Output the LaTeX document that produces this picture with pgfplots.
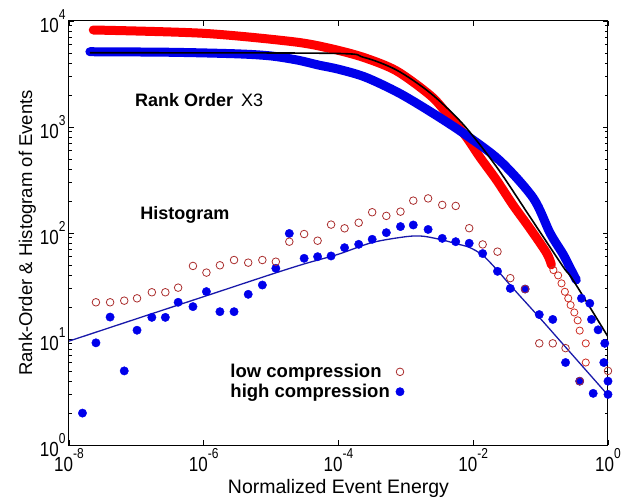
\documentclass[border=0pt]{standalone}
\usepackage{pgfplots}
\pgfplotsset{compat=1.18}
\usepackage{fontspec}
\setmainfont{Liberation Sans}
\definecolor{rankred}{RGB}{255,0,0}
\definecolor{dotblue}{RGB}{0,0,235}
\definecolor{fitblue}{RGB}{25,25,170}
\definecolor{circred}{RGB}{170,45,45}
\definecolor{tailred}{RGB}{205,45,35}
\newcommand{\tl}[1]{\scalebox{1}[1.2]{10\raisebox{0.62em}{\fontsize{12bp}{12bp}\selectfont #1}}}
\begin{document}
\begin{tikzpicture}
\path[use as bounding box] (0,0) rectangle (621bp,501bp);
\begin{axis}[
  at={(69bp,56bp)}, anchor=south west,
  width=539bp, height=424bp, scale only axis,
  xmode=log, ymode=log,
  xmin=1e-8, xmax=1, ymin=1, ymax=1e4,
  xtick={1e-8,1e-6,1e-4,1e-2,1},
  xticklabels={\tl{-8},\tl{-6},\tl{-4},\tl{-2},\tl{0}},
  ytick={1,10,100,1000,10000},
  yticklabels={\tl{0},\tl{1},\tl{2},\tl{3},\tl{4}},
  xminorticks=false,
  tick label style={font=\fontsize{17bp}{19bp}\selectfont},
  axis line style={line width=1bp},
  tick style={black, line width=0.8bp},
  major tick length=5bp, minor tick length=3bp,
  xlabel={Normalized Event Energy},
  ylabel={Rank-Order \& Histogram of Events},
  xlabel style={font=\fontsize{19.5bp}{22bp}\selectfont, yshift=-1bp},
  ylabel style={font=\fontsize{18.5bp}{21bp}\selectfont, yshift=-3bp},
  reverse legend,
  legend plot pos=right,
  legend cell align=left,
  legend style={at={(0.29,0.2)}, anchor=north west, draw=none, fill=none,
    font=\fontsize{18.5bp}{21bp}\selectfont\bfseries, row sep=1bp, column sep=4bp},
]
% rank order, low compression (x3)
\addplot[rankred, line width=9bp, line cap=round, line join=round, smooth, tension=0.5, forget plot] coordinates {
(2.291e-8,8222) (9.772e-7,7656) (2.089e-5,6383) (7.413e-5,5521) (2.344e-4,4539)
(7.244e-4,3388) (2.291e-3,1995) (3.981e-3,1365) (7.586e-3,831.8) (1.259e-2,517.6)
(2.213e-2,316.2) (3.890e-2,183.7) (6.918e-2,110.7) (0.1230,64.6) (0.1445,50.1)
};
% rank order, high compression (x3)
\addplot[dotblue, line width=9bp, line cap=round, line join=round, smooth, tension=0.5, forget plot] coordinates {
(2.042e-8,5129) (3.162e-7,5070) (3.162e-6,4898) (1e-5,4677) (2.512e-5,4266)
(5.012e-5,3846) (1e-4,3508) (2.512e-4,2951) (7.943e-4,2089) (2.512e-3,1349)
(7.586e-3,851.1) (2.512e-2,478.6) (7.762e-2,213.8) (0.1380,100) (0.2153,63.1)
(0.2692,47.9) (0.3388,36.1)
};
% fit to rank order
\addplot[black, line width=1.6bp, smooth, tension=0.5, forget plot] coordinates {
(2.042e-8,5012) (7.413e-5,4955) (2.344e-4,4550) (7.244e-4,3450) (2.291e-3,2100)
(7.079e-3,1060) (2.213e-2,421.7) (6.918e-2,142.6) (0.2153,48.1) (0.3020,36.1) (1,10.5)
};
% rank order tails
\addplot[only marks, mark=o, mark size=3.6bp, tailred, mark options={line width=0.8bp}, forget plot] coordinates {
(0.1549,44.7) (0.1820,39.8) (0.2042,33.5) (0.2291,27.9) (0.2570,24.2) (0.2786,20.9)
(0.3162,17.8) (0.3548,15.0) (0.3802,12.0) (0.4677,9.1) (0.4677,6.0)
};
\addplot[only marks, mark=*, mark size=4.2bp, dotblue, forget plot] coordinates {
(0.4036,24.2) (0.5370,21.7) (0.5689,15.3) (0.7129,12.2) (0.8954,9.1) (0.8670,6.0) (1,3.0)
};
% fit to histogram
\addplot[fitblue, line width=1.3bp, smooth, forget plot] coordinates {
(1e-8,9.55) (1e-7,15.5) (1e-6,25.1) (1e-5,40.7) (3.162e-5,51.3) (1e-4,63.1)
(3.162e-4,81.3) (1e-3,92.3) (1.778e-3,93.3) (3.467e-3,86.1) (5.495e-3,79.4)
(8.710e-3,73.3) (1.380e-2,61.7) (2.265e-2,44.7) (3.715e-2,31.1) (0.1,15.5)
(0.3162,6.76) (1,2.95)
};
% histogram, high compression
\addplot[only marks, mark=*, mark size=4.2bp, dotblue] coordinates {
(1.585e-8,2.0) (2.512e-8,9.2) (4.074e-8,16.1) (6.607e-8,5.0) (1.023e-7,12.1)
(1.698e-7,16.0) (2.692e-7,16.0) (4.169e-7,22.2) (6.918e-7,20.2) (1.096e-6,28.0)
(1.738e-6,18.1) (2.818e-6,18.1) (4.571e-6,26.4) (7.413e-6,32.3) (1.175e-5,46.4)
(1.862e-5,99.0) (3.090e-5,57.7) (4.898e-5,59.8) (7.762e-5,60.7) (1.230e-4,72.7)
(1.995e-4,78.2) (3.162e-4,87.2) (5.129e-4,100.7) (8.318e-4,115) (1.288e-3,119)
(2.138e-3,108) (3.467e-3,89) (5.495e-3,82.8) (8.710e-3,80) (1.380e-2,64)
(2.291e-2,43.5) (3.548e-2,30) (5.888e-2,29.6) (9.550e-2,17.0) (0.1514,15.3)
(0.2344,6.0) (0.3802,4.0) (0.6026,3.07) (1,4.0)
};
\addlegendentry{high compression}
% histogram, low compression
\addplot[only marks, mark=o, mark size=3.8bp, circred, mark options={line width=0.8bp}] coordinates {
(2.512e-8,22.2) (4.074e-8,22.2) (6.607e-8,23.0) (1.023e-7,24.2) (1.698e-7,27.6)
(2.692e-7,27.6) (4.169e-7,30.5) (6.918e-7,48.9) (1.096e-6,42.3) (1.738e-6,49.6)
(2.818e-6,55.6) (4.571e-6,52.5) (7.413e-6,55.6) (1.175e-5,53.6) (1.862e-5,82.8)
(3.090e-5,97.8) (4.898e-5,84.6) (7.762e-5,120) (1.230e-4,110.7) (1.995e-4,125)
(3.162e-4,157) (5.129e-4,145) (8.318e-4,159) (1.288e-3,202) (2.138e-3,212)
(3.467e-3,184) (5.495e-3,180) (8.710e-3,111) (1.380e-2,78) (2.291e-2,66.7)
(3.548e-2,37.5) (5.888e-2,29.6) (9.550e-2,9.1) (0.1514,9.1) (0.2344,8.2)
(0.3802,4.0) (1,5.0)
};
\addlegendentry{low compression}
\node[anchor=west, font=\fontsize{18bp}{20bp}\selectfont\bfseries] at (axis cs:8.5e-8,1800) {Rank Order\hspace{8bp}\textmd{X3}};
\node[anchor=west, font=\fontsize{18bp}{20bp}\selectfont\bfseries] at (axis cs:1.02e-7,148) {Histogram};
\end{axis}
\end{tikzpicture}
\end{document}
